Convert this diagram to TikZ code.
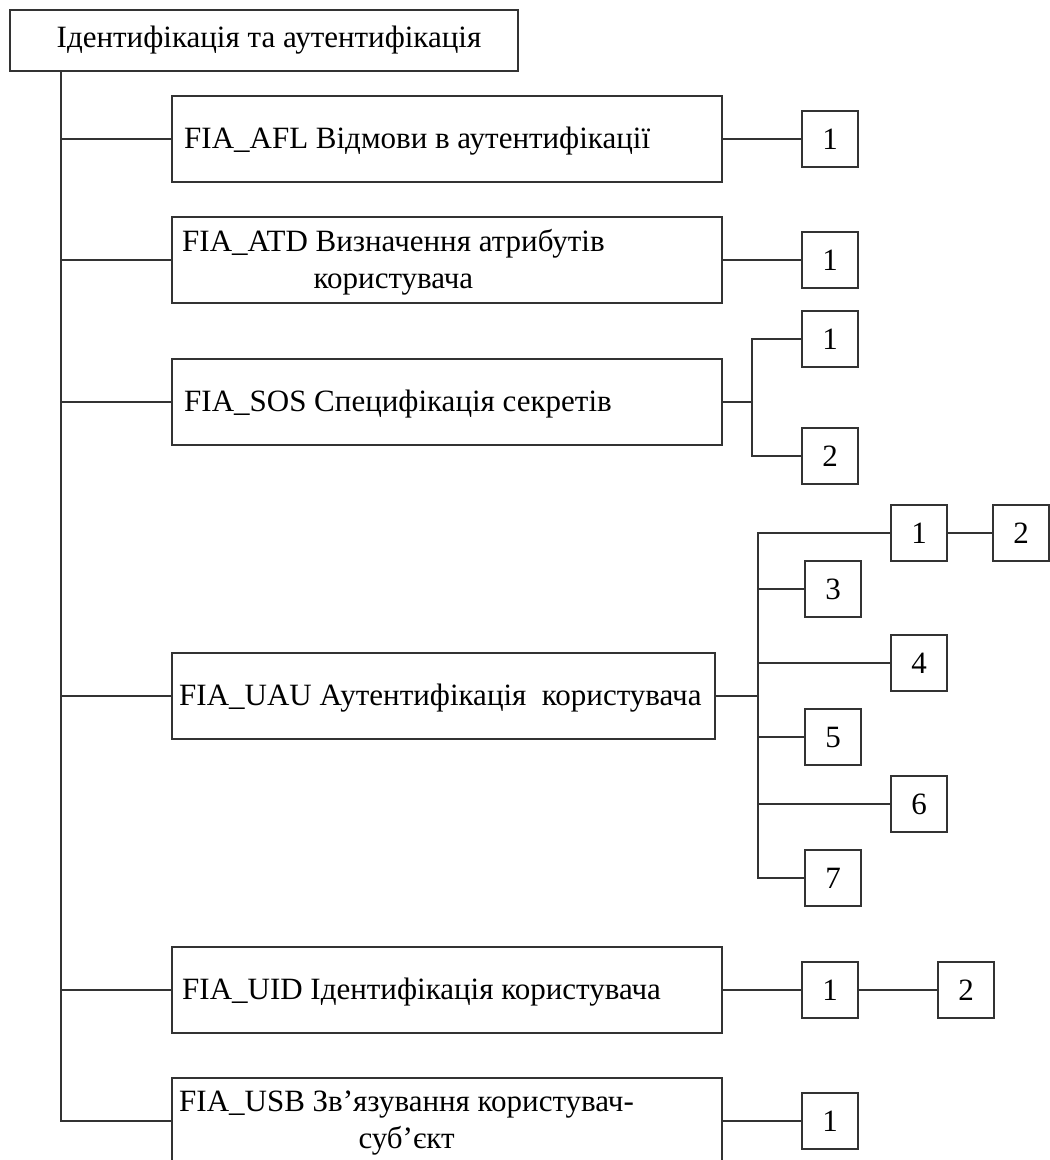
\documentclass[tikz,border=0pt]{standalone}
\usepackage{fontspec}
\setmainfont{Liberation Serif}
\usetikzlibrary{positioning}
\tikzset{
  link/.style={line width=2pt, draw=black!80},
  headbox/.style={link, minimum width=508pt, minimum height=61pt, inner sep=0pt},
  bigbox/.style={link, minimum width=550pt, minimum height=86pt, inner sep=0pt},
  numbox/.style={link, minimum width=56pt, minimum height=56pt, inner sep=0pt},
  boxtext/.style={anchor=west, align=center, inner sep=0pt}
}

\begin{document}
\begin{tikzpicture}[x=1pt, y=-1pt, line cap=round,
  font=\fontsize{31}{37}\selectfont]

  \useasboundingbox (0,0) rectangle (1050,1160);

  % top
  \node [headbox] (top) at (264,40.5) {\hspace*{10pt}Ідентифікація та аутентифікація};
  \coordinate (trunk) at (61,71);

  % families
  \node [bigbox] (afl) at (447,139) {};
  \node [bigbox] (atd) at (447,260) {};
  \node [bigbox] (sos) at (447,402) {};
  \node [bigbox, minimum width=543pt] (uau) at (443.5,696) {};
  \node [bigbox] (uid) at (447,990) {};
  \node [bigbox] (usb) at (447,1121) {};

  \node [boxtext] (afltxt) at ([xshift=13pt,yshift=-2pt]afl.west) {FIA\_AFL Відмови в аутентифікації};
  \node [boxtext] (atdtxt) at ([xshift=11pt,yshift=-2pt]atd.west) {FIA\_ATD Визначення атрибутів\\користувача};
  \node [boxtext] (sostxt) at ([xshift=13pt,yshift=-2pt]sos.west) {FIA\_SOS Специфікація секретів};
  \node [boxtext] (uautxt) at ([xshift=8pt,yshift=-2pt]uau.west) {FIA\_UAU Аутентифікація\ \ користувача};
  \node [boxtext] (uidtxt) at ([xshift=11pt,yshift=-2pt]uid.west) {FIA\_UID Ідентифікація користувача};
  \node [boxtext] (usbtxt) at ([xshift=8pt,yshift=-2pt]usb.west) {FIA\_USB Зв’язування користувач-\\суб’єкт};

  % components
  \node [numbox] (afl1) at (830,139) {1};
  \node [numbox] (atd1) at (830,260) {1};
  \node [numbox] (sos1) at (830,339) {1};
  \node [numbox] (sos2) at (830,456) {2};
  \node [numbox] (uau1) at (919,533) {1};
  \node [numbox] (uau2) at (1021,533) {2};
  \node [numbox] (uau3) at (833,589) {3};
  \node [numbox] (uau4) at (919,663) {4};
  \node [numbox] (uau5) at (833,737) {5};
  \node [numbox] (uau6) at (919,804) {6};
  \node [numbox] (uau7) at (833,878) {7};
  \node [numbox] (uid1) at (830,990) {1};
  \node [numbox] (uid2) at (966,990) {2};
  \node [numbox] (usb1) at (830,1121) {1};

  % trunk
  \draw [link] (trunk) |- (usb.west);
  \foreach \f in {afl,atd,sos,uau,uid}
    \draw [link] (trunk |- \f.west) -- (\f.west);

  \draw [link] (afl) -- (afl1);
  \draw [link] (atd) -- (atd1);
  \draw [link] (uid) -- (uid1);
  \draw [link] (uid1) -- (uid2);
  \draw [link] (usb) -- (usb1);

  % SOS fork
  \coordinate (sosbus) at (752,402);
  \draw [link] (sos.east) -- (sosbus);
  \draw [link] (sos1.west) -| (sosbus) |- (sos2.west);

  % UAU fork
  \coordinate (uaubus) at (758,696);
  \draw [link] (uau.east) -- (uaubus);
  \draw [link] (uau1.west) -| (uaubus) |- (uau7.west);
  \foreach \n in {3,4,5,6}
    \draw [link] (uaubus |- uau\n.west) -- (uau\n.west);
  \draw [link] (uau1) -- (uau2);

\end{tikzpicture}
\end{document}
